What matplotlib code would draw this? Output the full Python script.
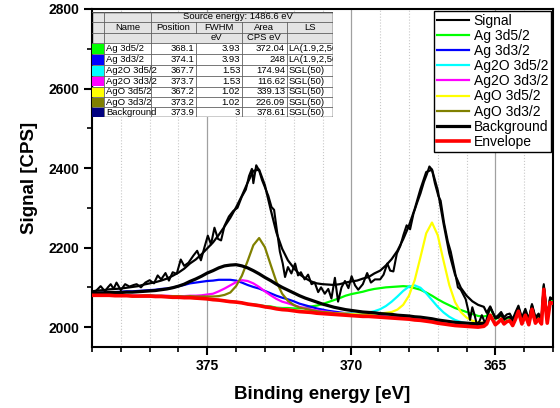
import numpy as np
import matplotlib
matplotlib.use("Agg")
import matplotlib.pyplot as plt
from matplotlib.patches import Rectangle
from matplotlib.ticker import MultipleLocator

plt.rcParams["font.family"] = ["Liberation Sans", "DejaVu Sans"]

# binding energy grid for the fitted curves (eV)
energy = [379.0, 378.8, 378.6, 378.4, 378.2, 378.0, 377.8, 377.6, 377.4, 377.2,
          377.0, 376.8, 376.6, 376.4, 376.2, 376.0, 375.8, 375.6, 375.4, 375.2,
          375.0, 374.8, 374.6, 374.4, 374.2, 374.0, 373.8, 373.6, 373.4, 373.2,
          373.0, 372.8, 372.6, 372.4, 372.2, 372.0, 371.8, 371.6, 371.4, 371.2,
          371.0, 370.8, 370.6, 370.4, 370.2, 370.0, 369.8, 369.6, 369.4, 369.2,
          369.0, 368.8, 368.6, 368.4, 368.2, 368.0, 367.8, 367.6, 367.4, 367.2,
          367.0, 366.8, 366.6, 366.4, 366.2, 366.0, 365.8, 365.6, 365.4]

# step baseline (drawn red)
baseline = [2080, 2080, 2080, 2080, 2079, 2079, 2079, 2078, 2078, 2078,
            2078, 2077, 2077, 2076, 2075, 2075, 2074, 2074, 2073, 2072,
            2071, 2069, 2068, 2066, 2064, 2063, 2061, 2058, 2056, 2054,
            2051, 2049, 2046, 2044, 2043, 2041, 2039, 2038, 2037, 2035,
            2034, 2033, 2032, 2031, 2030, 2029, 2028, 2027, 2027, 2026,
            2025, 2024, 2023, 2022, 2021, 2020, 2018, 2017, 2015, 2013,
            2010, 2008, 2006, 2004, 2003, 2002, 2001, 2000, 2002]

# component heights above the baseline (CPS)
ag_3d52 = [0, 0, 0, 0, 0, 0, 0, 0, 0, 0,
           0, 0, 0, 0, 0, 0, 0, 0, 0, 0,
           0, 0, 0, 0, 0, 0, 0, 0, 1, 1,
           2, 3, 3, 4, 5, 6, 8, 11, 15, 19,
           24, 30, 36, 42, 49, 54, 58, 62, 66, 70,
           73, 76, 78, 80, 82, 82, 80, 77, 72, 66,
           60, 54, 49, 44, 40, 36, 32, 28, 25]
ag_3d32 = [5, 6, 7, 8, 9, 10, 11, 12, 13, 14,
           15, 17, 19, 21, 24, 28, 32, 36, 39, 42,
           45, 48, 51, 53, 55, 54, 51, 48, 45, 43,
           40, 36, 33, 30, 27, 24, 20, 17, 14, 12,
           10, 8, 7, 6, 5, 5, 4, 4, 3, 3,
           3, 2, 2, 2, 2, 2, 2, 2, 2, 2,
           2, 1, 1, 1, 1, 1, 1, 1, 1]
ag2o_3d52 = [0, 0, 0, 0, 0, 0, 0, 0, 0, 0,
             0, 0, 0, 0, 0, 0, 0, 0, 0, 0,
             0, 0, 0, 0, 0, 0, 0, 0, 1, 1,
             1, 1, 1, 2, 2, 2, 2, 2, 2, 2,
             3, 3, 3, 3, 4, 5, 6, 8, 10, 14,
             20, 29, 41, 55, 70, 82, 87, 82, 70, 55,
             41, 29, 20, 14, 10, 8, 6, 5, 4]
ag2o_3d32 = [0, 0, 0, 0, 0, 0, 0, 1, 1, 1,
             2, 2, 2, 3, 3, 3, 4, 5, 6, 8,
             11, 15, 22, 31, 41, 50, 57, 58, 54, 47,
             39, 31, 25, 20, 17, 14, 12, 10, 8, 7,
             6, 5, 4, 4, 3, 3, 3, 3, 2, 2,
             2, 2, 2, 2, 2, 1, 1, 1, 1, 1,
             1, 1, 1, 1, 1, 1, 1, 1, 1]
ago_3d52 = [0, 0, 0, 0, 0, 0, 0, 0, 0, 0,
            0, 0, 0, 0, 0, 0, 0, 0, 0, 0,
            0, 0, 0, 0, 0, 0, 0, 0, 0, 0,
            0, 0, 0, 1, 1, 2, 2, 2, 2, 2,
            3, 3, 3, 3, 4, 4, 4, 5, 6, 8,
            9, 12, 15, 22, 35, 59, 100, 159, 221, 250,
            221, 159, 100, 59, 35, 22, 15, 12, 9]
ago_3d32 = [0, 0, 0, 0, 0, 0, 0, 0, 0, 2,
            2, 2, 2, 2, 3, 3, 3, 4, 4, 5,
            6, 8, 10, 15, 23, 40, 68, 108, 150, 170,
            150, 108, 68, 40, 23, 15, 10, 8, 6, 5,
            4, 4, 3, 3, 3, 2, 2, 2, 2, 2,
            1, 1, 1, 1, 1, 1, 1, 1, 1, 1,
            1, 1, 1, 1, 1, 1, 1, 1, 1]
background_peak = [5, 6, 6, 7, 8, 8, 9, 10, 11, 12,
                   13, 15, 17, 20, 24, 28, 34, 41, 48, 56,
                   65, 73, 81, 88, 92, 94, 93, 91, 86, 80,
                   74, 68, 62, 56, 50, 45, 40, 35, 31, 28,
                   24, 21, 18, 16, 14, 13, 12, 11, 10, 10,
                   9, 9, 9, 8, 8, 8, 8, 8, 8, 8,
                   8, 8, 8, 8, 8, 8, 8, 8, 8]

# noisy low binding energy tail
tail_energy = [365.3, 365.18, 365.0, 364.9, 364.8, 364.7, 364.6, 364.5, 364.4, 364.3,
               364.2, 364.08, 363.96, 363.84, 363.73, 363.61, 363.5, 363.4, 363.32,
               363.2, 363.1, 363.0]
tail_envelope = [2008, 2030, 2006, 2012, 2020, 2008, 2014, 2016, 2004, 2020,
                 2040, 2008, 2030, 2006, 2045, 2010, 2020, 2008, 2095,
                 2010, 2062, 2060]
tail_ag = [2028, 2048, 2020, 2024, 2030, 2017, 2022, 2024, 2012, 2028,
           2048, 2016, 2038, 2014, 2053, 2018, 2028, 2016, 2102,
           2018, 2070, 2068]
tail_fit = [2036, 2052, 2022, 2024, 2032, 2019, 2024, 2026, 2015, 2030,
            2050, 2019, 2040, 2017, 2055, 2021, 2030, 2019, 2104,
            2021, 2072, 2070]

# measured signal
signal_energy = [379.0, 378.85, 378.7, 378.55, 378.45, 378.35, 378.25, 378.15, 378.0, 377.85,
                 377.7, 377.55, 377.45, 377.3, 377.15, 377.0, 376.85, 376.72, 376.6, 376.45,
                 376.33, 376.2, 376.06, 375.92, 375.8, 375.65, 375.48, 375.35, 375.22, 375.1,
                 374.98, 374.87, 374.75, 374.63, 374.52, 374.4, 374.25, 374.1, 373.95, 373.8,
                 373.66, 373.55, 373.45, 373.4, 373.3, 373.2, 373.1, 373.0, 372.88, 372.77,
                 372.68, 372.6, 372.48, 372.38, 372.3, 372.2, 372.08, 371.95, 371.85, 371.75,
                 371.62, 371.5, 371.38, 371.27, 371.15, 371.05, 370.92, 370.8, 370.69, 370.57,
                 370.46, 370.34, 370.22, 370.1, 369.99, 369.87, 369.76, 369.6, 369.45, 369.32,
                 369.18, 369.0, 368.88, 368.75, 368.65, 368.54, 368.42, 368.3, 368.19, 368.08,
                 367.96, 367.84, 367.72, 367.6, 367.48, 367.38, 367.29, 367.2, 367.1, 366.98,
                 366.9, 366.78, 366.65, 366.55, 366.42, 366.3, 366.2, 366.1, 366.03, 365.95,
                 365.88, 365.8, 365.72, 365.64, 365.55, 365.47, 365.35, 365.18, 365.0, 364.9,
                 364.8, 364.7, 364.6, 364.5, 364.4, 364.3, 364.2, 364.08, 363.96, 363.84,
                 363.73, 363.61, 363.5, 363.4, 363.32, 363.2, 363.1, 363.0]
signal_counts = [2086, 2092, 2103, 2090, 2100, 2108, 2096, 2112, 2093, 2108,
                 2102, 2106, 2108, 2100, 2112, 2118, 2110, 2130, 2120, 2136,
                 2117, 2138, 2134, 2170, 2154, 2162, 2180, 2192, 2168, 2200,
                 2230, 2208, 2250, 2222, 2218, 2255, 2278, 2292, 2300, 2328,
                 2346, 2380, 2398, 2362, 2407, 2394, 2370, 2352, 2330, 2302,
                 2295, 2252, 2190, 2160, 2126, 2151, 2135, 2160, 2130, 2138,
                 2120, 2132, 2108, 2112, 2088, 2100, 2084, 2096, 2072, 2124,
                 2064, 2100, 2116, 2098, 2128, 2105, 2094, 2108, 2136, 2112,
                 2120, 2120, 2132, 2160, 2142, 2140, 2185, 2204, 2232, 2256,
                 2246, 2286, 2312, 2336, 2365, 2384, 2404, 2396, 2362, 2330,
                 2318, 2262, 2215, 2190, 2145, 2100, 2094, 2080, 2070, 2045,
                 2018, 2050, 2030, 2006, 2015, 2030, 2009, 2050, 2024, 2030,
                 2038, 2025, 2032, 2034, 2020, 2038, 2054, 2024, 2046, 2020,
                 2058, 2025, 2034, 2022, 2108, 2022, 2075, 2070]

# fit table
names = ["Ag 3d5/2", "Ag 3d3/2", "Ag2O 3d5/2", "Ag2O 3d3/2", "AgO 3d5/2", "AgO 3d3/2", "Background"]
positions = [368.1, 374.1, 367.7, 373.7, 367.2, 373.2, 373.9]
fwhm = [3.93, 3.93, 1.53, 1.53, 1.02, 1.02, 3]
areas = [372.04, 248, 174.94, 116.62, 339.13, 226.09, 378.61]
lineshapes = ["LA(1.9,2,50)", "LA(1.9,2,50)", "SGL(50)", "SGL(50)", "SGL(50)", "SGL(50)", "SGL(50)"]
swatches = ["#00ff00", "#0000ff", "#00ffff", "#ff00ff", "#ffff00", "#808000", "#000080"]

x_ticks = [375, 370, 365]
y_ticks = [2000, 2200, 2400, 2600, 2800]

fig = plt.figure(figsize=(5.6, 4.08), dpi=100, facecolor="white")
ax = fig.add_axes([92 / 560, 1 - 347 / 408, 461 / 560, 338 / 408])

x = np.array(energy)
base = np.array(baseline)
components = [
    (ag_3d52, "#00ff00", "Ag 3d5/2"),
    (ag_3d32, "#0000ff", "Ag 3d3/2"),
    (ag2o_3d52, "#00ffff", "Ag2O 3d5/2"),
    (ag2o_3d32, "#ff00ff", "Ag2O 3d3/2"),
    (ago_3d52, "#ffff00", "AgO 3d5/2"),
    (ago_3d32, "#808000", "AgO 3d3/2"),
]
fit = base + np.array(background_peak) + sum(np.array(c[0]) for c in components)

ax.plot(signal_energy, signal_counts, color="black", lw=1.5, label="Signal", zorder=4)
for i, (vals, col, lab) in enumerate(components):
    if i == 0:
        ax.plot(np.concatenate([x, tail_energy]),
                np.concatenate([base + np.array(vals), tail_ag]),
                color=col, lw=1.6, label=lab, zorder=3)
    else:
        ax.plot(x, base + np.array(vals), color=col, lw=1.6, label=lab, zorder=3)
ax.plot(x, base + np.array(background_peak), color="black", lw=2.3,
        label="Background", zorder=3.5)
ax.plot(np.concatenate([x, tail_energy]), np.concatenate([fit, tail_fit]),
        color="black", lw=1.6, zorder=4)
ax.plot(np.concatenate([x, tail_energy]), np.concatenate([base, tail_envelope]),
        color="red", lw=2.6, label="Envelope", zorder=5)

ax.set_xlim(379, 363)
ax.set_ylim(1950, 2800)
ax.set_xticks(x_ticks)
ax.set_xticklabels([str(t) for t in x_ticks], fontweight="bold")
ax.set_yticks(y_ticks)
ax.set_yticklabels([str(t) for t in y_ticks], fontweight="bold")
ax.xaxis.set_minor_locator(MultipleLocator(1))
ax.yaxis.set_minor_locator(MultipleLocator(100))
ax.tick_params(which="major", direction="out", length=6, width=1.5, labelsize=10, pad=3)
ax.tick_params(which="minor", direction="out", length=3.5, width=1.2)

ax.set_axisbelow(True)
ax.grid(axis="x", which="major", color="#a0a0a0", lw=0.9, ls="-")
ax.grid(axis="x", which="minor", color="#c8c8c8", lw=0.8, ls=":")
for s in ax.spines.values():
    s.set_linewidth(1.5)

ax.set_xlabel("Binding energy [eV]", fontsize=13.5, fontweight="bold", labelpad=9)
ax.set_ylabel("Signal [CPS]", fontsize=13.5, fontweight="bold", labelpad=8)

leg = ax.legend(loc="upper right", fontsize=10, fancybox=False, edgecolor="black",
                framealpha=1, borderpad=0.2, labelspacing=0.08, handlelength=2.3,
                handletextpad=0.35, borderaxespad=0.15)
leg.get_frame().set_linewidth(1.0)
leg.set_zorder(10)

# fit parameter table, drawn in pixel units
tab = fig.add_axes([91.7 / 560, 1 - 117.3 / 408, (333.3 - 91.7) / 560, (117.3 - 11.7) / 408])
tab.set_xlim(91.7, 333.3)
tab.set_ylim(117.3, 11.7)
tab.axis("off")
tab.set_zorder(6)

cols = [91.7, 104.3, 150.7, 196, 241.7, 286.7, 333.3]
rows = [11.7, 21.7, 32.7, 43.3, 54.3, 65, 76, 86.7, 97.3, 107.3, 117.3]
fs = 6.8
lc = "#606060"

tab.add_patch(Rectangle((cols[0], rows[0]), cols[-1] - cols[0], rows[3] - rows[0],
                        fc="#e4e4e4", ec="none"))
tab.add_patch(Rectangle((cols[0], rows[3]), cols[-1] - cols[0], rows[-1] - rows[3],
                        fc="white", ec="none"))
for r in rows:
    tab.plot([cols[0], cols[-1]], [r, r], color=lc, lw=0.6)
# vertical dividers
for c in [cols[1], cols[2]]:
    tab.plot([c, c], [rows[0], rows[-1]], color=lc, lw=0.6)
for c in cols[3:6]:
    tab.plot([c, c], [rows[1], rows[2]], color=lc, lw=0.6)
for c in [cols[4], cols[5]]:
    tab.plot([c, c], [rows[2], rows[3]], color=lc, lw=0.6)
for c in cols[3:6]:
    tab.plot([c, c], [rows[3], rows[-1]], color=lc, lw=0.6)
tab.add_patch(Rectangle((cols[0], rows[0]), cols[-1] - cols[0], rows[-1] - rows[0],
                        fc="none", ec="black", lw=1.0))


def mid(a, b):
    return (a + b) / 2


tab.text(238, mid(rows[0], rows[1]), "Source energy: 1486.6 eV", fontsize=fs,
         ha="center", va="center")
for j, h in enumerate(["Name", "Position", "FWHM", "Area", "LS"]):
    tab.text(mid(cols[j + 1], cols[j + 2]), mid(rows[1], rows[2]), h, fontsize=fs,
             ha="center", va="center")
tab.text(216, mid(rows[2], rows[3]), "eV", fontsize=fs, ha="center", va="center")
tab.text(mid(cols[4], cols[5]), mid(rows[2], rows[3]), "CPS eV", fontsize=fs,
         ha="center", va="center")

for i in range(len(names)):
    y0, y1 = rows[3 + i], rows[4 + i]
    yc = mid(y0, y1)
    tab.add_patch(Rectangle((cols[0] + 0.5, y0 + 0.5), cols[1] - cols[0] - 1, y1 - y0 - 1,
                            fc=swatches[i], ec="none"))
    tab.text(cols[1] + 1.5, yc, names[i], fontsize=fs, ha="left", va="center")
    tab.text(cols[3] - 1.5, yc, f"{positions[i]:g}", fontsize=fs, ha="right", va="center")
    tab.text(cols[4] - 1.5, yc, f"{fwhm[i]:g}", fontsize=fs, ha="right", va="center")
    tab.text(cols[5] - 1.5, yc, f"{areas[i]:g}", fontsize=fs, ha="right", va="center")
    tab.text(cols[5] + 1.5, yc, lineshapes[i], fontsize=fs, ha="left", va="center",
             clip_on=True)

fig.savefig("out.png", dpi=100)
